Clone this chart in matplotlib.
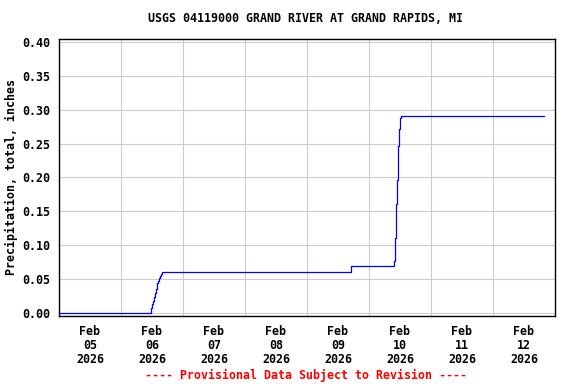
import numpy as np
import pandas as pd
import matplotlib
matplotlib.use("Agg")
import matplotlib.pyplot as plt
import matplotlib.dates as mdates
from matplotlib.ticker import FixedLocator

# Precipitation, cumulative total (inches)
times = [
    "2026-02-05 00:00", "2026-02-06 11:30", "2026-02-06 11:45",
    "2026-02-06 12:05", "2026-02-06 12:25", "2026-02-06 12:45",
    "2026-02-06 13:05", "2026-02-06 13:25", "2026-02-06 13:45",
    "2026-02-06 14:05", "2026-02-06 14:25", "2026-02-06 14:45",
    "2026-02-06 15:05", "2026-02-06 15:25", "2026-02-06 15:45",
    "2026-02-09 17:00", "2026-02-10 09:35", "2026-02-10 09:55",
    "2026-02-10 10:15", "2026-02-10 10:35", "2026-02-10 10:55",
    "2026-02-10 11:15", "2026-02-10 11:35", "2026-02-10 11:55",
    "2026-02-10 12:15", "2026-02-12 19:55",
]
precip = [
    0.000, 0.000, 0.008,
    0.013, 0.018, 0.024,
    0.030, 0.036, 0.040,
    0.045, 0.048, 0.052,
    0.055, 0.058, 0.060,
    0.070, 0.077, 0.092,
    0.111, 0.161, 0.196,
    0.247, 0.272, 0.288,
    0.291, 0.291,
]
day_labels = ["Feb\n05\n2026", "Feb\n06\n2026", "Feb\n07\n2026", "Feb\n08\n2026",
              "Feb\n09\n2026", "Feb\n10\n2026", "Feb\n11\n2026", "Feb\n12\n2026"]
y_ticks = [0.00, 0.05, 0.10, 0.15, 0.20, 0.25, 0.30, 0.35, 0.40]

t = pd.to_datetime(times)
t0 = pd.Timestamp("2026-02-05 00:00")
t1 = pd.Timestamp("2026-02-13 00:00")

mono = "DejaVu Sans Mono"
fs = 8.4

fig = plt.figure(figsize=(5.76, 3.84), dpi=100)
ax = fig.add_axes([59 / 576, 1 - 315.5 / 384, 496 / 576, (315.5 - 38.7) / 384])

ax.plot(t, precip, color="#0000ff", lw=0.9, drawstyle="steps-post")

ax.set_xlim(t0, t1)
ax.set_ylim(-0.0035, 0.4045)

# labels sit at noon, grid lines at midnight
noons = [mdates.date2num(t0 + pd.Timedelta(days=i, hours=12)) for i in range(8)]
mids = [mdates.date2num(t0 + pd.Timedelta(days=i)) for i in range(1, 8)]
ax.set_xticks(noons)
ax.set_xticklabels(day_labels)
ax.xaxis.set_minor_locator(FixedLocator(mids))

ax.set_yticks(y_ticks)
ax.set_yticklabels([f"{v:.2f}" for v in y_ticks])

ax.grid(False)
ax.grid(True, which="minor", axis="x", color="#cccccc", lw=0.8)
ax.grid(True, which="major", axis="y", color="#cccccc", lw=0.8)
ax.set_axisbelow(True)

ax.tick_params(axis="both", which="both", length=0)
ax.tick_params(axis="x", pad=7)
ax.tick_params(axis="y", pad=6)
for lab in ax.get_xticklabels() + ax.get_yticklabels():
    lab.set_fontfamily(mono)
    lab.set_fontweight("bold")
    lab.set_fontsize(fs)
    lab.set_linespacing(1.08)

for s in ax.spines.values():
    s.set_color("black")
    s.set_linewidth(1.0)

ax.set_ylabel("Precipitation, total, inches", fontfamily=mono, fontweight="bold",
              fontsize=fs, labelpad=3)
fig.text(306 / 576, 1 - 19 / 384, "USGS 04119000 GRAND RIVER AT GRAND RAPIDS, MI",
         ha="center", va="center", fontfamily=mono, fontweight="bold", fontsize=fs)
fig.text(306 / 576, 1 - 375 / 384, "---- Provisional Data Subject to Revision ----",
         ha="center", va="center", fontfamily=mono, fontweight="bold", fontsize=fs,
         color="#ff0000")

fig.savefig("out.png", dpi=100)
